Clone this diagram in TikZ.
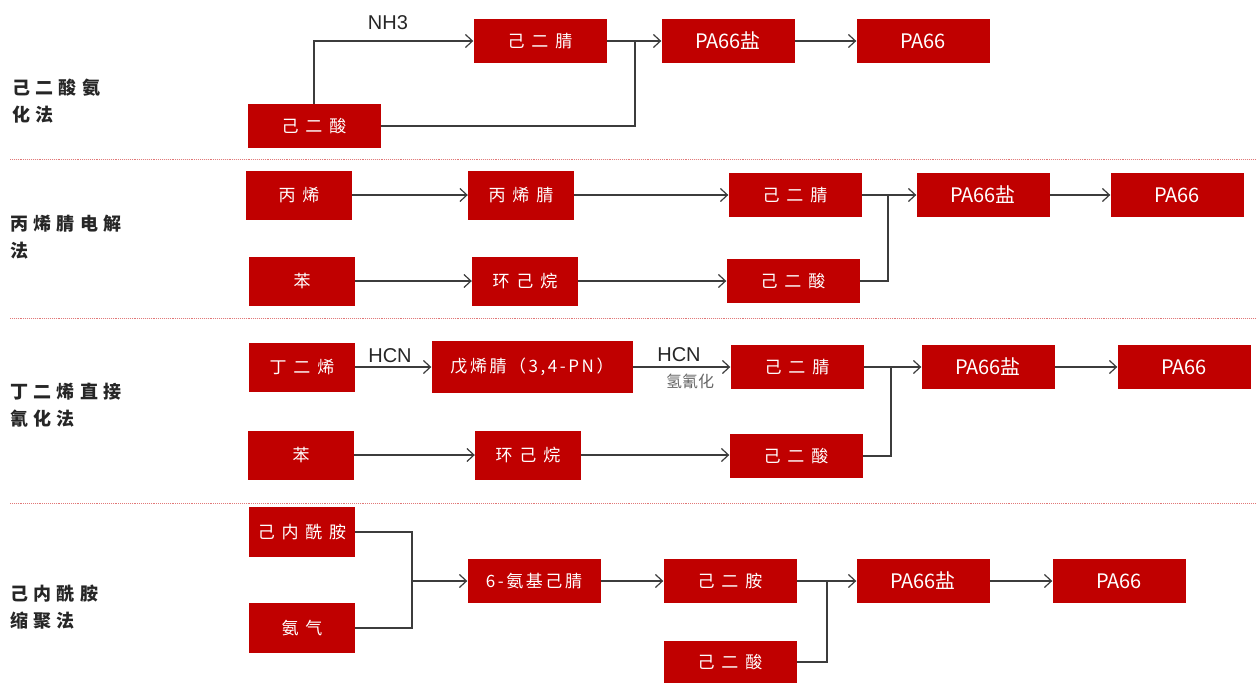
\documentclass[tikz,border=0pt]{standalone}
\usepackage{fontspec}
\setmainfont{Noto Sans CJK SC}
\newfontfamily\cjkbox[LetterSpace=40]{Noto Sans CJK SC}
\newfontfamily\cjkboxn[LetterSpace=15]{Noto Sans CJK SC}
\newfontfamily\cjklab[LetterSpace=30]{Noto Sans CJK SC}
\newfontfamily\latinlab{Liberation Sans}
\usetikzlibrary{arrows.meta}
\definecolor{boxred}{RGB}{192,0,0}
\definecolor{linegray}{RGB}{60,60,60}
\definecolor{seppink}{RGB}{225,120,120}
\tikzset{
  bx/.style={fill=boxred, text=white, minimum width=133, minimum height=44, inner sep=0,
    font=\cjkbox\fontsize{17}{17}\selectfont},
  sb/.style={bx, minimum width=106, minimum height=49},
  pbx/.style={bx, font=\fontsize{20}{20}\selectfont},
  lab/.style={anchor=west, align=left, inner sep=0, text=black!85,
    font=\cjklab\bfseries\fontsize{18}{27}\selectfont},
  note/.style={inner sep=0, text=black!85, font=\latinlab\fontsize{20}{20}\selectfont},
  ln/.style={draw=linegray, line width=1.3},
  arr/.style={ln, -{Straight Barb[length=7pt,width=13pt,line width=1.2pt]}},
  sep/.style={draw=seppink, line width=0.9, densely dotted}
}
\begin{document}
\begin{tikzpicture}[x=1pt,y=-1pt]
\useasboundingbox (0,0) rectangle (1258,685);
% separators
\draw[sep] (10,159) -- (1256,159);
\draw[sep] (10,318) -- (1256,318);
\draw[sep] (10,503) -- (1256,503);

% ---- section 1
\node[lab] (L1) at (12,101) {己二酸氨\\化法};
\node[bx] (n1) at (540,41) {己二腈};
\node[bx] (a1) at (314,126) {己二酸};
\node[pbx] (p1) at (728,41) {PA66盐};
\node[pbx] (q1) at (923,41) {PA66};
\node[note] (t1) at (388,23) {NH3};
\coordinate (j1) at (635,41);
\draw[arr] (a1.north) |- (n1.west);
\draw[arr] (n1.east) -- (p1.west);
\draw[ln] (a1.east) -| (j1);
\draw[arr] (p1) -- (q1);

% ---- section 2
\node[lab] (L2) at (10,237) {丙烯腈电解\\法};
\node[sb] (b2a) at (299,195) {丙烯};
\node[sb] (b2b) at (521,195) {丙烯腈};
\node[sb] (b2c) at (302,281) {苯};
\node[sb] (b2d) at (525,281) {环己烷};
\node[bx] (n2) at (795,195) {己二腈};
\node[bx] (a2) at (793,281) {己二酸};
\node[pbx] (p2) at (983,195) {PA66盐};
\node[pbx] (q2) at (1177,195) {PA66};
\coordinate (j2) at (888,195);
\draw[arr] (b2a) -- (b2b);
\draw[arr] (b2b) -- (n2);
\draw[arr] (b2c) -- (b2d);
\draw[arr] (b2d) -- (a2);
\draw[arr] (n2.east) -- (p2.west);
\draw[ln] (a2.east) -| (j2);
\draw[arr] (p2) -- (q2);

% ---- section 3
\node[lab] (L3) at (10,405) {丁二烯直接\\氰化法};
\node[sb] (c3a) at (302,367) {丁二烯};
\node[bx, minimum width=201, minimum height=52, font=\cjkboxn\fontsize{17}{17}\selectfont] (c3b) at (532,367) {戊烯腈（3,4-PN）};
\node[bx] (n3) at (797,367) {己二腈};
\node[pbx] (p3) at (988,367) {PA66盐};
\node[pbx] (q3) at (1184,367) {PA66};
\node[sb] (c3c) at (301,455) {苯};
\node[sb] (c3d) at (528,455) {环己烷};
\node[bx] (a3) at (796,456) {己二酸};
\node[note] (t3a) at (390,356) {HCN};
\node[note] (t3b) at (679,355) {HCN};
\node[inner sep=0, text=black!60, font=\fontsize{16}{16}\selectfont] (t3c) at (690,381) {氢氰化};
\coordinate (j3) at (891,367);
\draw[arr] (c3a) -- (c3b);
\draw[arr] (c3b) -- (n3);
\draw[arr] (c3c) -- (c3d);
\draw[arr] (c3d.east) -- (a3.west |- c3d.east);
\draw[arr] (n3.east) -- (p3.west);
\draw[ln] (a3.east) -| (j3);
\draw[arr] (p3) -- (q3);

% ---- section 4
\node[lab] (L4) at (10,607) {己内酰胺\\缩聚法};
\node[sb, minimum height=50] (d4a) at (302,532) {己内酰胺};
\node[sb, minimum height=50] (d4b) at (302,628) {氨气};
\node[bx, font=\cjkboxn\fontsize{17}{17}\selectfont] (e4) at (534,581) {6-氨基己腈};
\node[bx] (h4) at (730,581) {己二胺};
\node[bx, minimum height=42] (a4) at (730,662) {己二酸};
\node[pbx] (p4) at (923,581) {PA66盐};
\node[pbx] (q4) at (1119,581) {PA66};
\coordinate (j4) at (412,581);
\coordinate (j5) at (827,581);
\draw[ln] (d4a.east) -| (j4);
\draw[ln] (d4b.east) -| (j4);
\draw[arr] (j4) -- (e4.west);
\draw[arr] (e4) -- (h4);
\draw[arr] (h4.east) -- (p4.west);
\draw[ln] (a4.east) -| (j5);
\draw[arr] (p4) -- (q4);
\end{tikzpicture}
\end{document}
